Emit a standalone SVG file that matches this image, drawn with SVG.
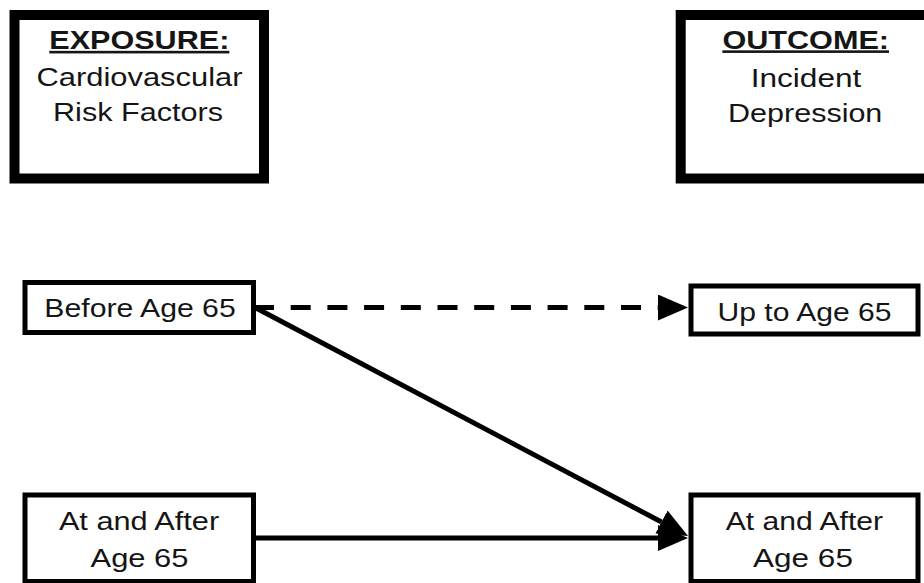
<svg xmlns="http://www.w3.org/2000/svg" width="924" height="583" viewBox="0 0 924 583">
  <style>
    .thick { fill: #fff; stroke: #000; stroke-width: 10; }
    .thin { fill: #fff; stroke: #000; stroke-width: 5; }
    text { font-family: "Liberation Sans", Arial, sans-serif; font-size: 25px; fill: #151515; text-anchor: middle; }
    .hd { font-weight: bold; font-size: 26px; text-decoration: underline; }
    .conn { stroke: #000; stroke-width: 5; fill: none; }
    .dash { stroke-dasharray: 20 16.7; }
  </style>
  <defs>
    <marker id="arrow" markerUnits="userSpaceOnUse" markerWidth="31" markerHeight="27" refX="0" refY="13" orient="auto" viewBox="0 0 31 27">
      <path d="M0,0 L30,13 L0,26 Z" fill="#000"/>
    </marker>
  </defs>
  <rect width="924" height="583" fill="#fff"/>

  <g id="exposure">
    <rect class="thick" x="14.5" y="15" width="249.5" height="163.5"/>
    <text class="hd" transform="translate(139.3 49) scale(1.176 1)">EXPOSURE:</text>
    <text transform="translate(139.5 86) scale(1.236 1)">Cardiovascular</text>
    <text transform="translate(138 121) scale(1.224 1)">Risk Factors</text>
  </g>

  <g id="outcome">
    <rect class="thick" x="680.7" y="15" width="250" height="163.5"/>
    <text class="hd" transform="translate(805.7 48.5) scale(1.178 1)">OUTCOME:</text>
    <text transform="translate(806 87) scale(1.264 1)">Incident</text>
    <text transform="translate(805.2 122) scale(1.221 1)">Depression</text>
  </g>

  <g id="before65">
    <rect class="thin" x="25" y="282.5" width="228.5" height="50"/>
    <text transform="translate(140 317) scale(1.208 1)">Before Age 65</text>
  </g>

  <g id="upto65">
    <rect class="thin" x="691" y="286" width="227" height="48"/>
    <text transform="translate(804.5 320.5) scale(1.204 1)">Up to Age 65</text>
  </g>

  <g id="exp-after65">
    <rect class="thin" x="25" y="495" width="228.5" height="86.5"/>
    <text transform="translate(139 530) scale(1.227 1)">At and After</text>
    <text transform="translate(139.5 567) scale(1.237 1)">Age 65</text>
  </g>

  <g id="out-after65">
    <rect class="thin" x="691" y="495" width="227" height="86.5"/>
    <text transform="translate(804.4 530) scale(1.204 1)">At and After</text>
    <text transform="translate(803 567) scale(1.26 1)">Age 65</text>
  </g>

  <g id="connectors">
    <line class="conn dash" x1="254" y1="307.5" x2="658" y2="307.5" marker-end="url(#arrow)"/>
    <line class="conn" x1="256" y1="308" x2="661.5" y2="522" marker-end="url(#arrow)"/>
    <line class="conn" x1="256" y1="538" x2="658" y2="538" marker-end="url(#arrow)"/>
  </g>
</svg>
